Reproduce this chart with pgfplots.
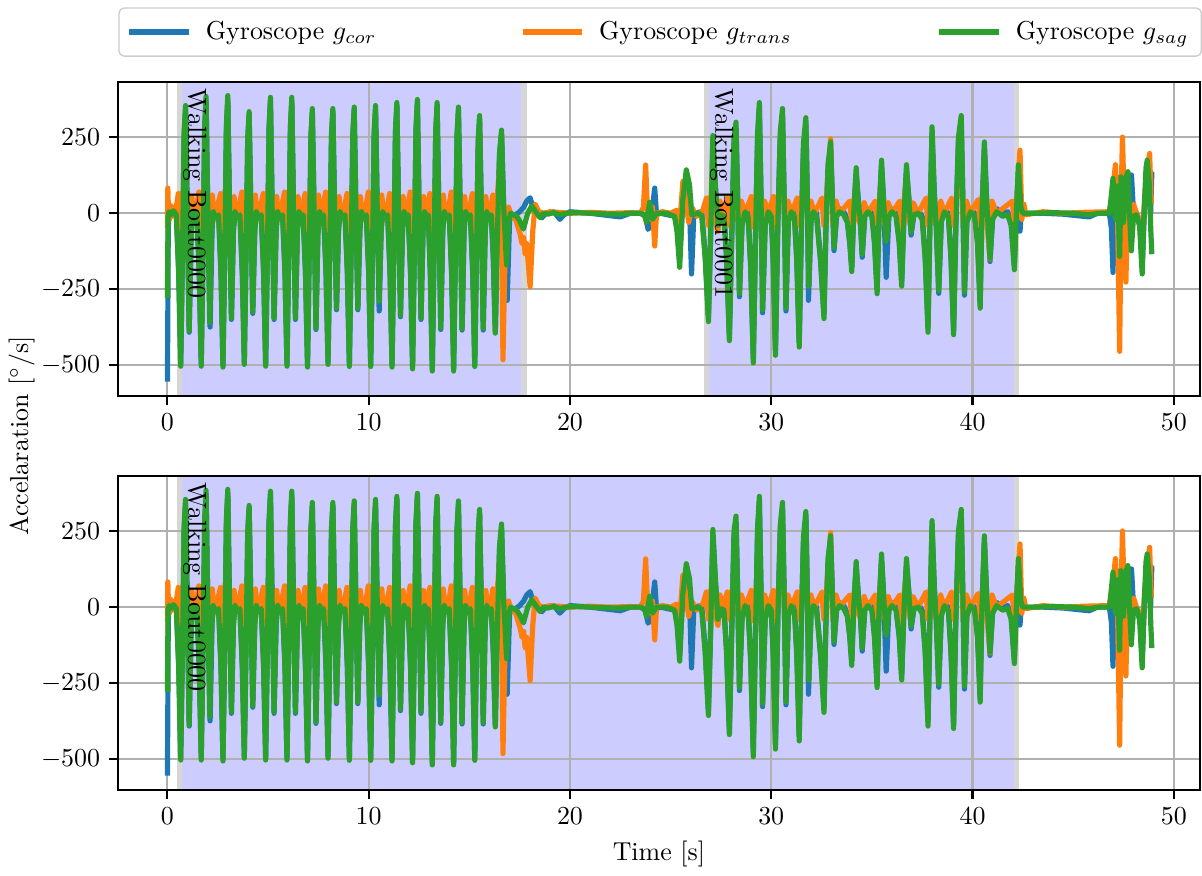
\documentclass[border=0pt]{standalone}
\usepackage{pgfplots}
\usepackage{pgfplotstable}
\pgfplotsset{compat=1.18}

\definecolor{tabblue}{HTML}{1F77B4}
\definecolor{taborange}{HTML}{FF7F0E}
\definecolor{tabgreen}{HTML}{2CA02C}
\definecolor{spanfill}{RGB}{204,204,255}
\definecolor{spanedge}{RGB}{214,214,214}
\definecolor{gridgray}{RGB}{176,176,176}

\pgfplotsset{
  gyro/.style={
    set layers,
    scale only axis, width=417pt, height=121pt,
    xmin=-2.44, xmax=51.28, ymin=-602, ymax=432,
    xtick={0,10,20,30,40,50}, ytick={-500,-250,0,250},
    grid=major, grid style={gridgray, line width=0.8pt},
    axis line style={line width=0.8pt},
    tick align=outside, xtick pos=left, ytick pos=left,
    major tick length=3.5pt, tick style={black, line width=0.8pt},
  },
  sig/.style={line width=2pt, line join=round},
  span/.style={fill=spanfill, draw=none, forget plot, on layer=axis background},
  spanline/.style={spanedge, line width=2pt, forget plot, on layer=axis background},
}

\begin{document}

% gyroscope, coronal axis
\pgfplotstableread{
t v
0.00 -555
0.02 -330
0.04 -60
0.08 10
0.18 15
0.30 5
0.44 8
0.56 -190
0.66 -496
0.76 -70
0.83 256
0.90 343
0.98 40
1.08 -392
1.18 -50
1.26 15
1.36 -5
1.46 12
1.58 -190
1.68 -496
1.78 -70
1.85 277
1.92 373
2.00 40
2.12 -375
2.22 -50
2.28 15
2.38 -5
2.54 5
2.66 -190
2.76 -499
2.86 -70
2.93 279
3.00 376
3.08 40
3.18 -350
3.28 -50
3.36 15
3.46 -5
3.60 5
3.72 -190
3.82 -490
3.92 -70
3.99 241
4.06 323
4.14 40
4.24 -330
4.34 -50
4.42 15
4.52 -5
4.66 5
4.78 -190
4.88 -496
4.98 -70
5.05 277
5.12 370
5.20 40
5.30 -350
5.40 -50
5.48 15
5.58 -5
5.72 5
5.84 -190
5.94 -496
6.04 -70
6.11 277
6.18 370
6.26 40
6.36 -350
6.46 -50
6.54 15
6.64 -5
6.74 5
6.86 -190
6.96 -499
7.06 -70
7.13 249
7.20 333
7.28 40
7.38 -383
7.48 -50
7.56 15
7.66 -5
7.76 5
7.88 -190
7.98 -490
8.08 -70
8.15 249
8.22 333
8.30 40
8.40 -318
8.50 -50
8.58 15
8.68 -5
8.82 5
8.94 -190
9.04 -497
9.14 -70
9.21 252
9.28 338
9.36 40
9.46 -318
9.56 -50
9.64 15
9.74 -5
9.88 5
10.00 -190
10.10 -497
10.20 -70
10.27 256
10.34 343
10.42 40
10.52 -322
10.62 -50
10.70 15
10.80 -5
10.94 5
11.06 -190
11.16 -499
11.26 -70
11.33 264
11.40 353
11.48 40
11.58 -341
11.68 -50
11.76 15
11.86 -5
11.96 5
12.08 -190
12.18 -505
12.28 -70
12.35 271
12.42 363
12.50 40
12.60 -350
12.70 -50
12.78 15
12.88 -5
12.96 5
13.06 -190
13.16 -512
13.26 -70
13.33 264
13.40 353
13.48 40
13.58 -383
13.68 -50
13.76 15
13.86 -5
14.00 5
14.12 -190
14.22 -512
14.32 -70
14.39 252
14.46 338
14.54 40
14.64 -385
14.74 -50
14.82 15
14.92 -5
15.05 5
15.17 -190
15.27 -497
15.37 -70
15.44 231
15.51 310
15.59 40
15.69 -385
15.79 -50
15.87 15
15.97 -5
16.09 5
16.19 -140
16.29 -387
16.39 -70
16.50 190
16.60 262
16.70 40
16.88 -287
17.00 -20
17.30 -5
17.50 5
17.70 20
17.85 40
18.02 51
18.20 10
18.40 -5
18.60 -15
18.80 0
19.20 5
19.50 -20
19.70 -5
20.00 5
21.00 0
22.50 -12
23.00 0
23.50 0
23.75 -10
23.88 -53
24.00 -40
24.21 83
24.30 -5
24.50 0
25.20 -10
25.32 -50
25.45 -150
25.60 30
25.84 105
25.95 0
26.04 -200
26.15 -10
26.40 5
26.55 0
26.72 -140
26.88 -342
27.00 -40
27.10 236
27.22 90
27.35 -50
27.50 5
27.65 0
27.78 -140
27.92 -405
28.05 -40
28.15 230
28.25 280
28.33 60
28.42 -275
28.55 -30
28.70 15
28.85 0
28.98 -170
29.11 -478
29.22 -70
29.32 240
29.41 345
29.49 70
29.57 -328
29.70 -30
29.85 15
30.00 0
30.10 -150
30.21 -453
30.33 -20
30.45 250
30.56 325
30.64 60
30.73 -322
30.85 -20
31.00 15
31.15 0
31.27 -150
31.39 -426
31.50 -40
31.60 210
31.72 295
31.80 40
31.85 -287
31.98 -10
32.10 15
32.25 0
32.45 -150
32.62 -332
32.72 -40
32.82 140
32.95 215
33.03 70
33.12 -123
33.25 0
33.40 15
33.60 5
33.78 -20
33.90 -90
34.00 -177
34.10 10
34.22 130
34.32 50
34.42 -10
34.52 -145
34.65 0
34.80 15
35.00 0
35.13 -90
35.26 -250
35.36 10
35.48 155
35.58 50
35.71 -211
35.85 0
36.00 15
36.20 0
36.36 -90
36.48 -225
36.60 10
36.72 140
36.84 50
36.95 -72
37.10 5
37.30 10
37.50 -10
37.65 -140
37.79 -377
37.88 -40
37.99 265
38.10 70
38.20 -40
38.32 -264
38.45 -20
38.60 15
38.80 0
38.93 -140
39.06 -385
39.17 -40
39.30 230
39.44 302
39.52 50
39.60 -270
39.72 -20
39.90 15
40.10 0
40.25 -90
40.38 -298
40.47 10
40.59 215
40.70 50
40.87 -159
41.00 -10
41.20 15
41.50 0
41.75 5
41.92 -30
42.08 -171
42.18 10
42.28 140
42.36 -59
42.45 30
42.55 0
43.50 0
44.50 -3
45.80 -12
46.20 0
46.80 0
46.90 -50
46.98 -195
47.05 0
47.10 -30
47.20 120
47.31 -120
47.40 100
47.55 -60
47.68 110
47.80 60
47.90 126
48.00 0
48.20 -5
48.35 -60
48.43 -180
48.55 20
48.68 160
48.78 60
48.85 0
48.91 137
}\gcor

% gyroscope, transverse axis
\pgfplotstableread{
t v
0.00 -48
0.02 83
0.05 10
0.10 -20
0.18 25
0.28 -10
0.41 5
0.54 65
0.63 -55
0.74 40
0.88 140
1.00 -30
1.10 -70
1.21 55
1.31 -20
1.44 15
1.56 70
1.65 -55
1.76 40
1.90 170
2.02 -30
2.12 -75
2.23 60
2.33 -20
2.46 15
2.64 65
2.73 -60
2.84 40
2.98 150
3.10 -30
3.20 -70
3.31 55
3.41 -20
3.54 15
3.70 70
3.79 -55
3.90 40
4.04 130
4.16 -30
4.26 -65
4.37 60
4.47 -20
4.60 15
4.76 65
4.85 -55
4.96 40
5.10 150
5.22 -30
5.32 -70
5.43 55
5.53 -20
5.66 15
5.82 70
5.91 -60
6.02 40
6.16 150
6.28 -30
6.38 -70
6.49 55
6.59 -20
6.71 15
6.84 65
6.93 -55
7.04 40
7.18 140
7.30 -30
7.40 -75
7.51 60
7.61 -20
7.73 15
7.86 70
7.95 -55
8.06 40
8.20 140
8.32 -30
8.42 -65
8.53 55
8.63 -20
8.79 15
8.92 65
9.01 -60
9.12 40
9.26 140
9.38 -30
9.48 -70
9.59 55
9.69 -20
9.85 15
9.98 70
10.07 -55
10.18 40
10.32 140
10.44 -30
10.54 -70
10.65 60
10.75 -20
10.91 15
11.04 65
11.13 -55
11.24 40
11.38 145
11.50 -30
11.60 -70
11.71 55
11.81 -20
11.93 15
12.06 70
12.15 -60
12.26 40
12.40 150
12.52 -30
12.62 -75
12.73 55
12.83 -20
12.94 15
13.04 65
13.13 -55
13.24 40
13.38 145
13.50 -30
13.60 -70
13.71 60
13.81 -20
13.97 15
14.10 70
14.19 -55
14.30 40
14.44 140
14.56 -30
14.66 -70
14.77 55
14.87 -20
15.02 15
15.15 65
15.24 -60
15.35 40
15.49 130
15.61 -30
15.71 -70
15.82 55
15.92 -20
16.06 15
16.17 60
16.26 -50
16.37 40
16.50 150
16.60 60
16.67 -483
16.80 -50
16.95 20
17.10 -10
17.30 -20
17.52 -68
17.62 -100
17.70 -80
17.77 -133
17.85 -100
18.02 -242
18.15 -60
18.27 30
18.45 5
18.70 0
19.00 5
20.00 0
21.00 3
22.00 0
23.00 2
23.50 0
23.65 20
23.76 159
23.85 10
24.00 -20
24.10 20
24.21 -108
24.30 0
24.60 5
25.00 0
25.30 10
25.45 -40
25.61 105
25.75 40
25.90 -30
26.05 20
26.30 -10
26.60 10
26.78 50
26.88 -40
26.98 30
27.10 140
27.20 -20
27.35 -60
27.45 40
27.60 0
27.82 50
27.92 -40
28.02 30
28.25 165
28.35 -20
28.42 -60
28.52 40
28.70 0
29.01 55
29.11 -45
29.21 30
29.41 200
29.51 -20
29.57 -60
29.67 40
29.85 0
30.11 55
30.21 -45
30.31 30
30.56 190
30.66 -20
30.73 -60
30.83 40
31.00 0
31.29 50
31.39 -40
31.49 30
31.72 170
31.80 -20
31.87 -60
31.97 40
32.15 0
32.52 50
32.62 -40
32.72 30
32.95 245
33.04 -20
33.12 -60
33.22 40
33.40 0
33.90 40
34.00 -35
34.10 30
34.22 100
34.32 -20
34.52 -50
34.62 35
34.80 0
35.16 40
35.26 -35
35.36 30
35.48 120
35.58 -20
35.71 -55
35.81 35
36.00 0
36.38 40
36.48 -100
36.58 30
36.72 110
36.84 -20
36.95 -50
37.05 35
37.30 0
37.69 50
37.79 -40
37.89 30
37.99 170
38.10 -20
38.32 -60
38.42 40
38.60 0
38.96 50
39.06 -40
39.16 30
39.44 190
39.52 -20
39.60 -60
39.70 40
39.90 0
40.28 45
40.38 -40
40.48 30
40.59 150
40.70 -20
40.87 -151
40.97 40
41.20 0
41.98 40
42.08 -40
42.18 30
42.36 208
42.45 -20
42.55 30
42.65 -5
43.50 5
44.50 0
45.50 3
46.80 5
46.95 60
47.10 160
47.20 20
47.31 -455
47.40 100
47.45 251
47.55 0
47.62 -227
47.72 60
47.85 -30
48.00 30
48.20 -10
48.35 -20
48.45 -90
48.55 50
48.70 150
48.80 197
48.88 30
}\gtrans

% gyroscope, sagittal axis
\pgfplotstableread{
t v
0.00 -280
0.03 -10
0.08 5
0.18 -5
0.30 8
0.44 -5
0.56 -200
0.66 -504
0.76 -80
0.83 266
0.90 355
0.98 30
1.08 -388
1.18 -60
1.26 5
1.36 -15
1.46 5
1.58 -200
1.68 -504
1.78 -80
1.85 289
1.92 385
2.00 30
2.10 -360
2.20 -60
2.28 5
2.38 -15
2.54 -5
2.66 -200
2.76 -507
2.86 -80
2.93 291
3.00 388
3.08 30
3.18 -345
3.28 -60
3.36 5
3.46 -15
3.60 -5
3.72 -200
3.82 -498
3.92 -80
3.99 251
4.06 335
4.14 30
4.24 -325
4.34 -60
4.42 5
4.52 -15
4.66 -5
4.78 -200
4.88 -504
4.98 -80
5.05 287
5.12 382
5.20 30
5.30 -345
5.40 -60
5.48 5
5.58 -15
5.72 -5
5.84 -200
5.94 -504
6.04 -80
6.11 287
6.18 382
6.26 30
6.36 -345
6.46 -60
6.54 5
6.64 -15
6.74 -5
6.86 -200
6.96 -507
7.06 -80
7.13 259
7.20 345
7.28 30
7.38 -378
7.48 -60
7.56 5
7.66 -15
7.76 -5
7.88 -200
7.98 -498
8.08 -80
8.15 259
8.22 345
8.30 30
8.40 -313
8.50 -60
8.58 5
8.68 -15
8.82 -5
8.94 -200
9.04 -505
9.14 -80
9.21 262
9.28 350
9.36 30
9.46 -313
9.56 -60
9.64 5
9.74 -15
9.88 -5
10.00 -200
10.10 -505
10.20 -80
10.27 266
10.34 355
10.42 30
10.52 -290
10.62 -60
10.70 5
10.80 -15
10.94 -5
11.06 -200
11.16 -507
11.26 -80
11.33 274
11.40 365
11.48 30
11.58 -336
11.68 -60
11.76 5
11.86 -15
11.96 -5
12.08 -200
12.18 -513
12.28 -80
12.35 281
12.42 375
12.50 30
12.60 -345
12.70 -60
12.78 5
12.88 -15
12.96 -5
13.06 -200
13.16 -520
13.26 -80
13.33 274
13.40 365
13.48 30
13.58 -378
13.68 -60
13.76 5
13.86 -15
14.00 -5
14.12 -200
14.22 -520
14.32 -80
14.39 262
14.46 350
14.54 30
14.64 -380
14.74 -60
14.82 5
14.92 -15
15.05 -5
15.17 -200
15.27 -505
15.37 -80
15.44 241
15.51 322
15.59 30
15.69 -380
15.79 -60
15.87 5
15.97 -15
16.09 -5
16.19 -150
16.29 -395
16.39 -80
16.50 200
16.60 274
16.70 30
16.85 -170
16.95 -30
17.05 0
17.20 -5
17.35 -10
17.50 -25
17.69 -52
17.90 0
18.10 24
18.30 5
18.51 -14
18.70 0
18.90 -3
19.20 2
19.50 -5
19.80 0
20.30 2
21.00 0
21.80 -2
22.50 -3
23.00 0
23.50 0
23.70 -5
23.80 -30
23.96 36
24.10 -20
24.30 0
24.80 0
25.20 -10
25.32 -60
25.45 -178
25.60 40
25.78 143
25.94 94
26.05 -5
26.40 0
26.55 -10
26.72 -150
26.88 -357
27.00 -50
27.10 256
27.22 100
27.35 -40
27.50 -5
27.65 -10
27.78 -150
27.92 -420
28.05 -50
28.15 250
28.25 300
28.33 50
28.42 -265
28.55 -40
28.70 5
28.85 -10
28.98 -180
29.11 -493
29.22 -80
29.32 260
29.41 365
29.49 60
29.57 -318
29.70 -40
29.85 5
30.00 -10
30.10 -160
30.21 -468
30.33 -30
30.45 270
30.56 345
30.64 50
30.73 -312
30.85 -30
31.00 5
31.15 -10
31.27 -160
31.39 -441
31.50 -50
31.60 230
31.72 315
31.80 30
31.87 -240
31.98 -20
32.10 5
32.25 -10
32.45 -160
32.62 -347
32.72 -50
32.82 160
32.95 235
33.03 60
33.12 -113
33.25 -10
33.40 5
33.60 -5
33.78 -30
33.90 -100
34.00 -192
34.10 0
34.22 150
34.32 40
34.42 -20
34.52 -135
34.65 -10
34.80 5
35.00 -10
35.13 -100
35.26 -265
35.36 0
35.48 175
35.58 40
35.71 -92
35.85 -10
36.00 5
36.20 -10
36.36 -100
36.48 -240
36.60 0
36.72 160
36.84 40
36.95 -62
37.10 -5
37.30 0
37.50 -20
37.65 -150
37.79 -392
37.88 -50
37.99 285
38.10 60
38.20 -50
38.32 -254
38.45 -30
38.60 5
38.80 -10
38.93 -150
39.06 -400
39.17 -50
39.30 250
39.44 322
39.52 40
39.60 -260
39.72 -30
39.90 5
40.10 -10
40.25 -100
40.38 -313
40.47 0
40.59 235
40.70 40
40.87 -149
41.00 -20
41.20 5
41.50 -10
41.75 -5
41.92 -40
42.08 -186
42.18 0
42.28 160
42.40 20
42.50 0
43.00 0
44.00 2
45.00 0
45.80 -5
46.30 0
46.80 0
46.90 60
46.98 115
47.10 -20
47.20 90
47.31 -142
47.38 120
47.50 -30
47.60 110
47.72 137
47.80 0
47.89 -124
48.00 -10
48.15 -5
48.30 -40
48.43 -200
48.52 0
48.62 150
48.68 175
48.78 100
48.86 -60
48.91 -135
}\gsag

\begin{tikzpicture}

% upper panel: two walking bouts
\begin{axis}[gyro, at={(0,0)}, anchor=south west,
  legend columns=3,
  legend image code/.code={\draw[#1] (0pt,0pt) -- (23pt,0pt);},
  legend style={at={(axis description cs:0,1.081)}, anchor=south west,
    draw=black!20, line width=0.5pt, rounded corners=2pt,
    inner xsep=3pt, inner ysep=3pt,
    /tikz/every odd column/.style={column sep=3.5pt},
    /tikz/column 2/.style={column sep=53.4pt},
    /tikz/column 4/.style={column sep=53.9pt}},
]
\addplot[span] coordinates {(0.6,-602) (17.72,-602) (17.72,432) (0.6,432)} -- cycle;
\addplot[span] coordinates {(26.78,-602) (42.18,-602) (42.18,432) (26.78,432)} -- cycle;
\addplot[spanline] coordinates {(0.6,-602) (0.6,432)};
\addplot[spanline] coordinates {(17.72,-602) (17.72,432)};
\addplot[spanline] coordinates {(26.78,-602) (26.78,432)};
\addplot[spanline] coordinates {(42.18,-602) (42.18,432)};
\addplot[sig, tabblue] table {\gcor};
\addlegendentry{Gyroscope $g_{cor}$}
\addplot[sig, taborange] table {\gtrans};
\addlegendentry{Gyroscope $g_{trans}$}
\addplot[sig, tabgreen] table {\gsag};
\addlegendentry{Gyroscope $g_{sag}$}
\node[rotate=-90, anchor=south west, inner sep=0pt] at (axis cs:0.75,412) {Walking Bout0000};
\node[rotate=-90, anchor=south west, inner sep=0pt] at (axis cs:26.93,412) {Walking Bout0001};
\end{axis}

% lower panel: one merged bout
\begin{axis}[gyro, at={(0,-151.9pt)}, anchor=south west,
  xlabel={Time [s]},
  xlabel style={at={(axis description cs:0.5,0)}, anchor=center, yshift=-24.6pt},
]
\addplot[span] coordinates {(0.6,-602) (42.18,-602) (42.18,432) (0.6,432)} -- cycle;
\addplot[spanline] coordinates {(0.6,-602) (0.6,432)};
\addplot[spanline] coordinates {(42.18,-602) (42.18,432)};
\addplot[sig, tabblue] table {\gcor};
\addplot[sig, taborange] table {\gtrans};
\addplot[sig, tabgreen] table {\gsag};
\node[rotate=-90, anchor=south west, inner sep=0pt] at (axis cs:0.75,412) {Walking Bout0000};
\end{axis}

\node[rotate=90] at (-37.3pt,-15.4pt) {Accelaration [$^\circ$/s]};
\path (-45pt,-182.7pt) rectangle (417.3pt,152.7pt);
\end{tikzpicture}
\end{document}
